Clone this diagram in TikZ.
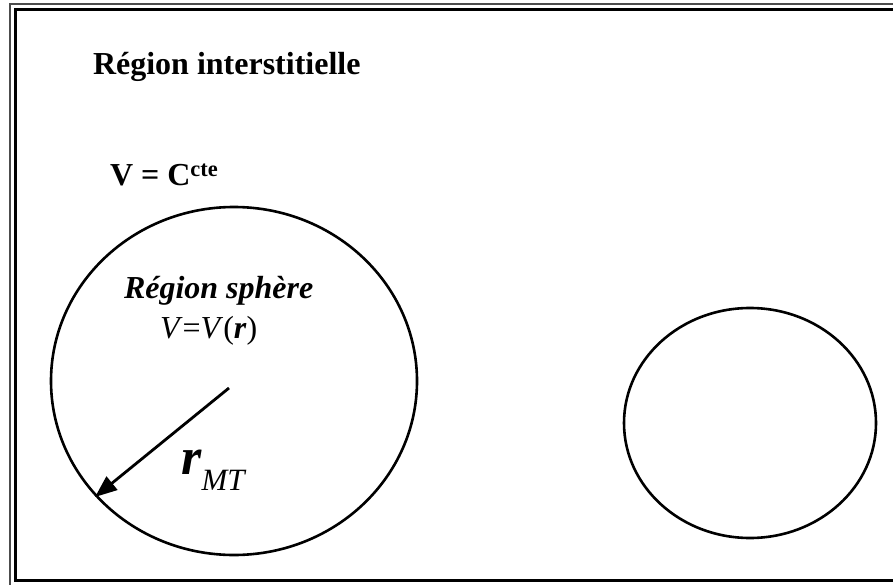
\documentclass[tikz,border=0pt]{standalone}
\usepackage{fontspec}
\setmainfont{Liberation Serif}
\usetikzlibrary{arrows.meta}
\begin{document}
\begin{tikzpicture}[x=1pt,y=-1pt,
  lbl/.style={anchor=base west,inner sep=0pt,outer sep=0pt},
  big/.style={font=\fontsize{32}{36}\selectfont},
  orb/.style={draw=black,line width=2.6pt},
  radius arrow/.style={line width=2.8pt,-{Triangle[length=22pt,width=17pt]}}]
\useasboundingbox (0,0) rectangle (893,585);
% frame
\draw[line width=1.5pt,black!70] (10,585) -- (10,4) -- (893,4);
\draw[line width=3pt] (893,10) -- (15,10) -- (15,580) -- (893,580);
% texts
\node[lbl,big] (title) at (93,75) {\textbf{Région interstitielle}};
\node[lbl,big] (vc) at (110,186) {\textbf{V = C\textsuperscript{cte}}};
\node[lbl,big] (rs) at (124,298) {\textbf{\textit{Région sphère}}};
\node[lbl,big] (vr) at (160,338) {\textit{V}=\textit{V}(\textbf{\textit{r}})};
\node[lbl] (rmt) at (181,474) {\fontsize{52}{54}\selectfont\textbf{\textit{r}}\raisebox{-16pt}{\fontsize{31}{32}\selectfont\textit{MT}}};
% spheres
\draw[orb] (234,381) ellipse [x radius=183, y radius=174];
\draw[orb] (750,423) ellipse [x radius=126, y radius=115];
% radius arrow
\coordinate (c) at (229,388);
\coordinate (t) at (95,497);
\draw[radius arrow] (c) -- (t);
\end{tikzpicture}
\end{document}
